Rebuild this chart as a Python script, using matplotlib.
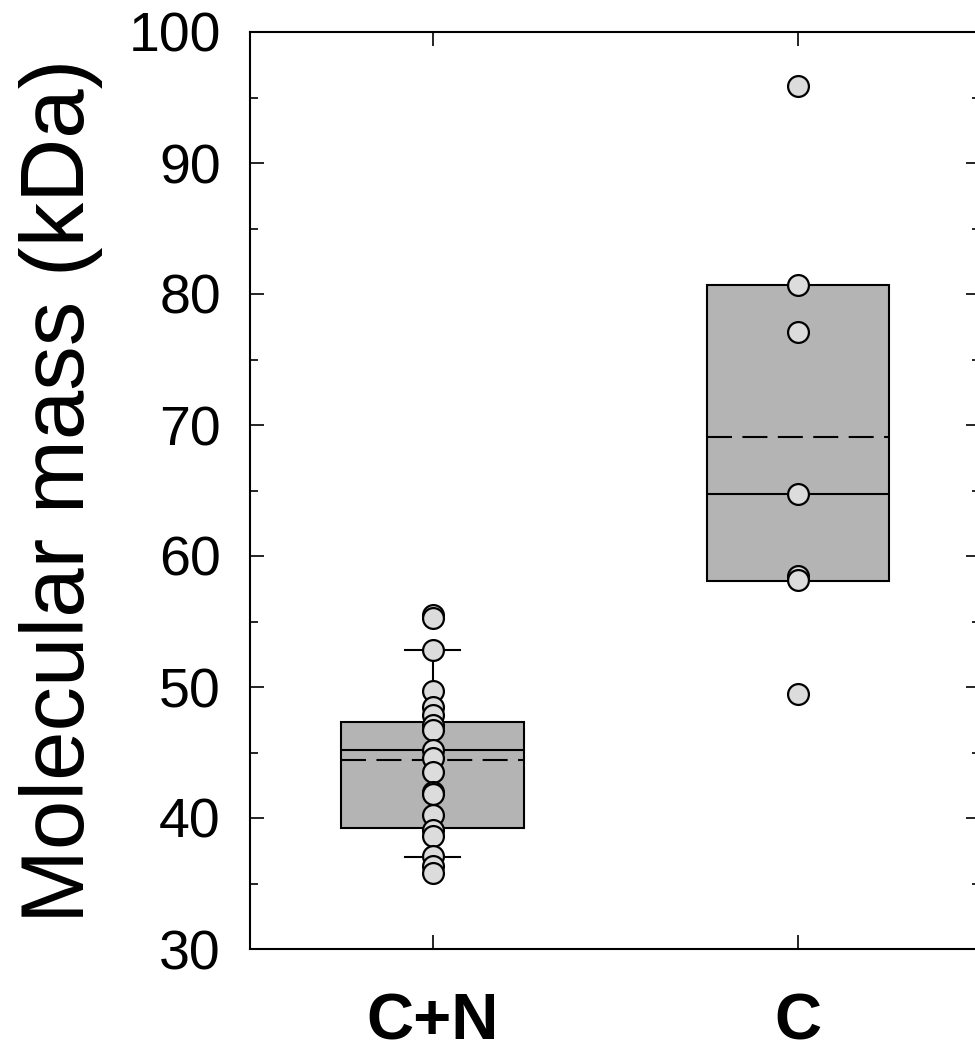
"""
Molecular mass box plot, C+N vs C.
"""

import numpy as np
import matplotlib.pyplot as plt
from matplotlib.ticker import MultipleLocator

plt.rcParams["font.family"] = ["Liberation Sans", "DejaVu Sans"]

groups = ["C+N", "C"]

# individual measurements (kDa)
mass_cn = [55.5, 55.3, 52.8, 49.7, 48.5, 47.9, 47.1, 46.7, 45.2, 44.6,
           43.5, 42.0, 41.8, 40.2, 39.1, 38.6, 37.1, 36.3, 35.8]
mass_c = [95.9, 80.7, 77.1, 64.7, 58.5, 58.2, 49.5]

# box statistics
q1 = [39.2, 58.1]
q3 = [47.3, 80.7]
med = [45.2, 64.7]
means = [44.4, 69.1]
whis_lo = [37.0, 58.1]
whis_hi = [52.8, 80.7]

fig = plt.figure(figsize=(9.75, 10.57), dpi=100)
ax = fig.add_axes([250/975, 108/1057, 730.5/975, 917/1057])

stats = []
for i in range(len(groups)):
    stats.append(dict(q1=q1[i], q3=q3[i], med=med[i], mean=means[i],
                      whislo=whis_lo[i], whishi=whis_hi[i], fliers=[]))

pos = np.arange(1, len(groups) + 1)
ax.bxp(stats, positions=pos, widths=0.5, capwidths=[0.15, 0.0],
       patch_artist=True, showmeans=True, meanline=True, showfliers=False,
       boxprops=dict(facecolor="#b4b4b4", edgecolor="k", linewidth=1.5),
       medianprops=dict(color="k", linewidth=1.5),
       meanprops=dict(color="k", linewidth=1.5, linestyle=(0, (12, 5))),
       whiskerprops=dict(color="k", linewidth=1.5),
       capprops=dict(color="k", linewidth=1.5), zorder=2)

for p, vals in zip(pos, [mass_cn, mass_c]):
    ax.plot(np.full(len(vals), p), vals, "o", ms=15, mfc="#dcdcdc",
            mec="k", mew=1.6, zorder=3)

ax.set_xlim(0.5, 2.5)
ax.set_ylim(30, 100)
ax.set_xticks(pos)
ax.set_xticklabels(groups, fontsize=47, fontweight="bold")
ax.yaxis.set_major_locator(MultipleLocator(10))
ax.yaxis.set_minor_locator(MultipleLocator(5))
ax.tick_params(axis="y", labelsize=40, direction="in", right=True,
               length=10, width=1.2, pad=21)
ax.tick_params(axis="y", which="minor", direction="in", right=True,
               length=6, width=1.2)
ax.tick_params(axis="x", direction="in", top=True, length=10, width=1.2,
               pad=31)
for s in ax.spines.values():
    s.set_linewidth(1.5)

ax.set_ylabel("Molecular mass (kDa)", fontsize=64, labelpad=18)

plt.savefig("out.png", dpi=100)
